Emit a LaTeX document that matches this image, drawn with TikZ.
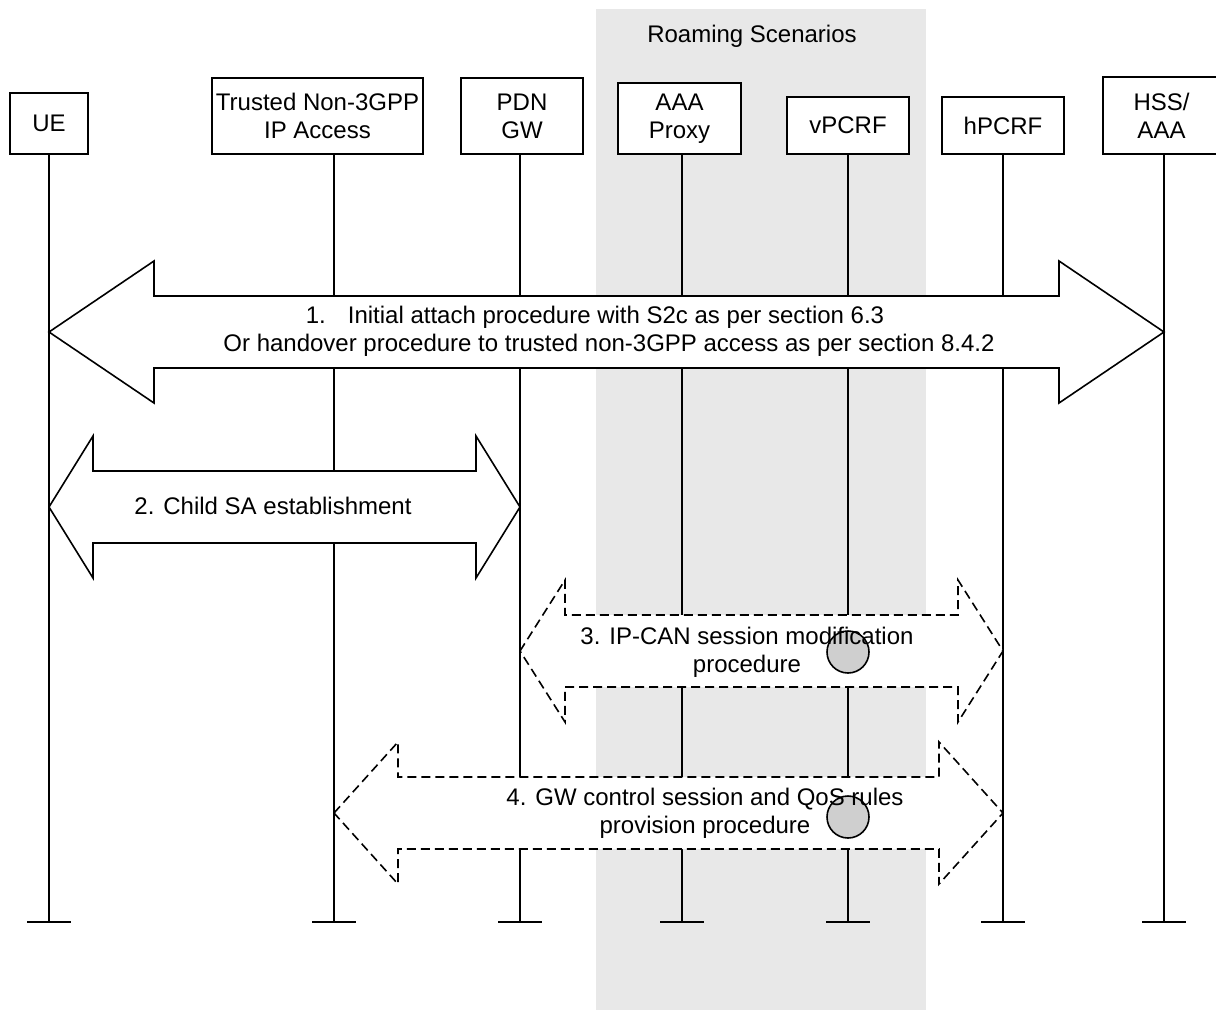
\documentclass[tikz,border=0pt]{standalone}
\usepackage{fontspec}
\setmainfont{Liberation Sans}
\definecolor{roamGray}{HTML}{E8E8E8}
\definecolor{dotGray}{HTML}{CFCFCF}
\usetikzlibrary{calc}
\newcommand{\blockarrow}[5][]{%
  \draw[blockarrow, #1] ($(#2)+(0,#4)$) -- ++(#5,-71) -- ++(0,35)
    -- ($(#3)+(-#5,#4-36)$) -- ++(0,-35) -- ($(#3)+(0,#4)$)
    -- ++(-#5,71) -- ++(0,-35) -- ($(#2)+(#5,#4+36)$) -- ++(0,35) -- cycle;}

\begin{document}
\begin{tikzpicture}[x=1pt, y=-1pt,
  font=\fontsize{24}{28}\selectfont,
  box/.style={draw, line width=1.6pt, inner sep=0pt, outer sep=0pt, align=center, anchor=south, fill=white},
  life/.style={line width=1.6pt},
  blockarrow/.style={draw, line width=1.6pt, fill=white},
  dashedge/.style={dash pattern=on 9pt off 5pt},
  marker/.style={circle, draw, line width=1.6pt, fill=dotGray, minimum size=42pt, inner sep=0pt},
  msg/.style={align=center, inner sep=0pt}
]
  \useasboundingbox (0,0) rectangle (1216,1012);
  \fill[roamGray] (596,9) rectangle (926,1010);
  \node[inner sep=0pt] (roam) at (752,36) {Roaming Scenarios};

  \node[box, minimum width=78pt, minimum height=61pt] (ue) at (49,154) {UE};
  \node[box, minimum width=211pt, minimum height=76pt] (tna) at (317.5,154) {Trusted Non-3GPP\\IP Access};
  \node[box, minimum width=122pt, minimum height=76pt] (pgw) at (522,154) {PDN\\GW};
  \node[box, minimum width=123pt, minimum height=71pt] (aaa) at (679.5,154) {AAA\\Proxy};
  \node[box, minimum width=122pt, minimum height=57pt] (vpcrf) at (848,154) {vPCRF};
  \node[box, minimum width=122pt, minimum height=57pt] (hpcrf) at (1003,154) {hPCRF};
  \node[box, minimum width=117pt, minimum height=77pt] (hss) at (1161.5,154) {HSS/\\AAA};

  \foreach \n/\x in {ue/49, tna/334, pgw/520, aaa/682, vpcrf/848, hpcrf/1003, hss/1164}{
    \coordinate (\n-l) at (\x,0);
    \draw[life] (\n-l |- \n.south) -- (\x,922) coordinate (\n-end);
    \draw[life] ($(\n-end)+(-22,0)$) -- ($(\n-end)+(22,0)$);
  }

  \blockarrow{ue-l}{hss-l}{332}{105}
  \blockarrow{ue-l}{pgw-l}{507}{44}
  \blockarrow[dashedge]{pgw-l}{hpcrf-l}{651}{45}
  \blockarrow[dashedge]{tna-l}{hpcrf-l}{813}{64}

  \node[marker] (m3) at (848,652) {};
  \node[marker] (m4) at (848,817) {};

  \node[msg] (s1) at (609,331) {1.\hspace{22pt}Initial attach procedure with S2c as per section 6.3\hspace*{28pt}\\Or handover procedure to trusted non-3GPP access as per section 8.4.2};
  \node[msg] (s2) at (273,506) {2. Child SA establishment};
  \node[msg] (s3) at (747,652) {3. IP-CAN session modification\\procedure};
  \node[msg] (s4) at (705,813) {4. GW control session and QoS rules\\provision procedure};
\end{tikzpicture}
\end{document}
